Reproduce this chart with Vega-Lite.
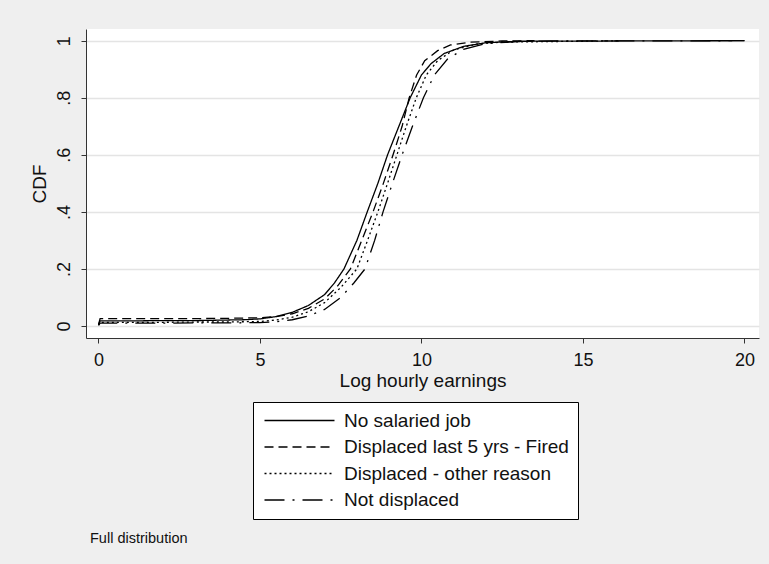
{
  "$schema": "https://vega.github.io/schema/vega-lite/v6.json",
  "width": 673,
  "height": 309,
  "autosize": {"type": "none"},
  "padding": {"left": 86, "top": 29, "right": 10, "bottom": 226},
  "background": "#efefef",
  "title": {
    "text": "Full distribution",
    "orient": "bottom",
    "anchor": "start",
    "frame": "group",
    "offset": 12,
    "dx": 4,
    "fontSize": 14.5,
    "fontWeight": "normal",
    "font": "Liberation Sans",
    "color": "#111111"
  },
  "config": {
    "view": {"fill": "white", "stroke": null},
    "font": "Liberation Sans",
    "axis": {
      "domainColor": "#333333",
      "tickColor": "#333333",
      "tickSize": 5,
      "labelColor": "#111111",
      "titleColor": "#111111",
      "labelFont": "Liberation Sans",
      "titleFont": "Liberation Sans",
      "labelFontSize": 18,
      "titleFontSize": 19,
      "titleFontWeight": "normal"
    }
  },
  "data": {
    "values": [
      {"g": "No salaried job", "x": 0, "y": 0.004},
      {"g": "No salaried job", "x": 0.05, "y": 0.018},
      {"g": "No salaried job", "x": 1, "y": 0.018},
      {"g": "No salaried job", "x": 2, "y": 0.019},
      {"g": "No salaried job", "x": 3, "y": 0.019},
      {"g": "No salaried job", "x": 4, "y": 0.021},
      {"g": "No salaried job", "x": 4.5, "y": 0.022},
      {"g": "No salaried job", "x": 5, "y": 0.025},
      {"g": "No salaried job", "x": 5.5, "y": 0.033},
      {"g": "No salaried job", "x": 6, "y": 0.048},
      {"g": "No salaried job", "x": 6.5, "y": 0.072},
      {"g": "No salaried job", "x": 7, "y": 0.11},
      {"g": "No salaried job", "x": 7.3, "y": 0.15},
      {"g": "No salaried job", "x": 7.6, "y": 0.2},
      {"g": "No salaried job", "x": 8, "y": 0.3},
      {"g": "No salaried job", "x": 8.32, "y": 0.4},
      {"g": "No salaried job", "x": 8.65, "y": 0.5},
      {"g": "No salaried job", "x": 8.95, "y": 0.6},
      {"g": "No salaried job", "x": 9.3, "y": 0.7},
      {"g": "No salaried job", "x": 9.65, "y": 0.8},
      {"g": "No salaried job", "x": 10, "y": 0.88},
      {"g": "No salaried job", "x": 10.3, "y": 0.92},
      {"g": "No salaried job", "x": 10.7, "y": 0.955},
      {"g": "No salaried job", "x": 11.3, "y": 0.98},
      {"g": "No salaried job", "x": 12, "y": 0.993},
      {"g": "No salaried job", "x": 13, "y": 0.998},
      {"g": "No salaried job", "x": 16, "y": 0.999},
      {"g": "No salaried job", "x": 20, "y": 1},

      {"g": "Displaced last 5 yrs - Fired", "x": 0, "y": 0.006},
      {"g": "Displaced last 5 yrs - Fired", "x": 0.05, "y": 0.026},
      {"g": "Displaced last 5 yrs - Fired", "x": 1, "y": 0.026},
      {"g": "Displaced last 5 yrs - Fired", "x": 2, "y": 0.026},
      {"g": "Displaced last 5 yrs - Fired", "x": 3, "y": 0.026},
      {"g": "Displaced last 5 yrs - Fired", "x": 4, "y": 0.027},
      {"g": "Displaced last 5 yrs - Fired", "x": 5, "y": 0.029},
      {"g": "Displaced last 5 yrs - Fired", "x": 5.5, "y": 0.033},
      {"g": "Displaced last 5 yrs - Fired", "x": 6, "y": 0.043},
      {"g": "Displaced last 5 yrs - Fired", "x": 6.5, "y": 0.062},
      {"g": "Displaced last 5 yrs - Fired", "x": 7, "y": 0.095},
      {"g": "Displaced last 5 yrs - Fired", "x": 7.4, "y": 0.14},
      {"g": "Displaced last 5 yrs - Fired", "x": 7.8, "y": 0.2},
      {"g": "Displaced last 5 yrs - Fired", "x": 8.15, "y": 0.3},
      {"g": "Displaced last 5 yrs - Fired", "x": 8.5, "y": 0.4},
      {"g": "Displaced last 5 yrs - Fired", "x": 8.82, "y": 0.5},
      {"g": "Displaced last 5 yrs - Fired", "x": 9.12, "y": 0.6},
      {"g": "Displaced last 5 yrs - Fired", "x": 9.4, "y": 0.7},
      {"g": "Displaced last 5 yrs - Fired", "x": 9.62, "y": 0.8},
      {"g": "Displaced last 5 yrs - Fired", "x": 9.85, "y": 0.88},
      {"g": "Displaced last 5 yrs - Fired", "x": 10.1, "y": 0.93},
      {"g": "Displaced last 5 yrs - Fired", "x": 10.5, "y": 0.965},
      {"g": "Displaced last 5 yrs - Fired", "x": 10.9, "y": 0.985},
      {"g": "Displaced last 5 yrs - Fired", "x": 11.5, "y": 0.995},
      {"g": "Displaced last 5 yrs - Fired", "x": 12.5, "y": 0.999},
      {"g": "Displaced last 5 yrs - Fired", "x": 13.5, "y": 1},

      {"g": "Displaced - other reason", "x": 0, "y": 0.003},
      {"g": "Displaced - other reason", "x": 0.05, "y": 0.013},
      {"g": "Displaced - other reason", "x": 1, "y": 0.013},
      {"g": "Displaced - other reason", "x": 2, "y": 0.013},
      {"g": "Displaced - other reason", "x": 3, "y": 0.014},
      {"g": "Displaced - other reason", "x": 4, "y": 0.014},
      {"g": "Displaced - other reason", "x": 5, "y": 0.016},
      {"g": "Displaced - other reason", "x": 5.5, "y": 0.021},
      {"g": "Displaced - other reason", "x": 6, "y": 0.031},
      {"g": "Displaced - other reason", "x": 6.5, "y": 0.05},
      {"g": "Displaced - other reason", "x": 7, "y": 0.082},
      {"g": "Displaced - other reason", "x": 7.5, "y": 0.135},
      {"g": "Displaced - other reason", "x": 8, "y": 0.2},
      {"g": "Displaced - other reason", "x": 8.33, "y": 0.3},
      {"g": "Displaced - other reason", "x": 8.65, "y": 0.4},
      {"g": "Displaced - other reason", "x": 8.95, "y": 0.5},
      {"g": "Displaced - other reason", "x": 9.24, "y": 0.6},
      {"g": "Displaced - other reason", "x": 9.53, "y": 0.7},
      {"g": "Displaced - other reason", "x": 9.84, "y": 0.8},
      {"g": "Displaced - other reason", "x": 10.15, "y": 0.88},
      {"g": "Displaced - other reason", "x": 10.5, "y": 0.93},
      {"g": "Displaced - other reason", "x": 11, "y": 0.968},
      {"g": "Displaced - other reason", "x": 11.7, "y": 0.988},
      {"g": "Displaced - other reason", "x": 12.5, "y": 0.995},
      {"g": "Displaced - other reason", "x": 14, "y": 0.997},
      {"g": "Displaced - other reason", "x": 15, "y": 0.998},
      {"g": "Displaced - other reason", "x": 16.1, "y": 1},

      {"g": "Not displaced", "x": 0, "y": 0.002},
      {"g": "Not displaced", "x": 0.05, "y": 0.01},
      {"g": "Not displaced", "x": 1, "y": 0.01},
      {"g": "Not displaced", "x": 2, "y": 0.01},
      {"g": "Not displaced", "x": 3, "y": 0.011},
      {"g": "Not displaced", "x": 4, "y": 0.011},
      {"g": "Not displaced", "x": 5, "y": 0.012},
      {"g": "Not displaced", "x": 5.5, "y": 0.015},
      {"g": "Not displaced", "x": 6, "y": 0.022},
      {"g": "Not displaced", "x": 6.5, "y": 0.035},
      {"g": "Not displaced", "x": 7, "y": 0.058},
      {"g": "Not displaced", "x": 7.5, "y": 0.1},
      {"g": "Not displaced", "x": 7.9, "y": 0.15},
      {"g": "Not displaced", "x": 8.25, "y": 0.2},
      {"g": "Not displaced", "x": 8.55, "y": 0.3},
      {"g": "Not displaced", "x": 8.81, "y": 0.4},
      {"g": "Not displaced", "x": 9.1, "y": 0.5},
      {"g": "Not displaced", "x": 9.4, "y": 0.6},
      {"g": "Not displaced", "x": 9.72, "y": 0.7},
      {"g": "Not displaced", "x": 10.06, "y": 0.8},
      {"g": "Not displaced", "x": 10.4, "y": 0.88},
      {"g": "Not displaced", "x": 10.8, "y": 0.935},
      {"g": "Not displaced", "x": 11.3, "y": 0.97},
      {"g": "Not displaced", "x": 12, "y": 0.99},
      {"g": "Not displaced", "x": 13, "y": 0.997},
      {"g": "Not displaced", "x": 14, "y": 0.999},
      {"g": "Not displaced", "x": 20, "y": 1}
    ]
  },
  "mark": {"type": "line", "stroke": "black", "strokeWidth": 1.3, "clip": true},
  "encoding": {
    "x": {
      "field": "x",
      "type": "quantitative",
      "scale": {"domain": [-0.387, 20.45], "nice": false, "zero": false},
      "axis": {
        "values": [0, 5, 10, 15, 20],
        "grid": false,
        "title": "Log hourly earnings",
        "labelPadding": 8,
        "titlePadding": 2
      }
    },
    "y": {
      "field": "y",
      "type": "quantitative",
      "scale": {"domain": [-0.042, 1.041], "nice": false, "zero": false},
      "axis": {
        "values": [0, 0.2, 0.4, 0.6, 0.8, 1],
        "labelExpr": "replace(replace(format(datum.value, '.1f'), /\\.0$/, ''), /^0\\./, '.')",
        "grid": true,
        "gridColor": "#e4e4e4",
        "gridWidth": 1.5,
        "labelAngle": -90,
        "labelAlign": "center",
        "labelBaseline": "bottom",
        "labelPadding": 8,
        "title": "CDF",
        "titlePadding": 6
      }
    },
    "strokeDash": {
      "field": "g",
      "type": "nominal",
      "scale": {
        "domain": ["No salaried job", "Displaced last 5 yrs - Fired", "Displaced - other reason", "Not displaced"],
        "range": [[1, 0], [9, 5], [2, 3], [20, 8, 2, 8]]
      },
      "legend": {
        "title": null,
        "orient": "none",
        "legendX": 167,
        "legendY": 373,
        "symbolType": "M-1,0L9,0",
        "symbolSize": 196,
        "symbolStrokeWidth": 1.3,
        "symbolStrokeColor": "black",
        "symbolFillColor": "transparent",
        "labelFont": "Liberation Sans",
        "labelFontSize": 19,
        "labelColor": "#111111",
        "labelOffset": 63,
        "rowPadding": 6.5,
        "padding": 9,
        "strokeColor": "black",
        "fillColor": "white",
        "labelLimit": 400
      }
    }
  }
}
